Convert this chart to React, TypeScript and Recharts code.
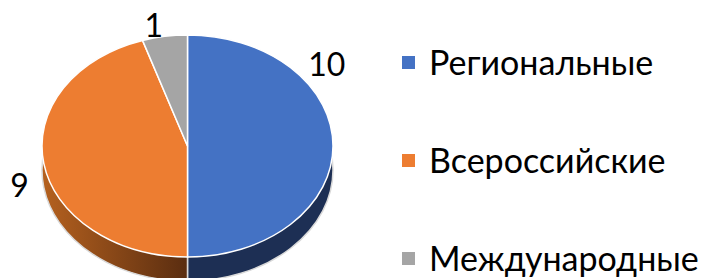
import React from 'react';
import { PieChart, Pie, Cell, Legend } from 'recharts';

const categories = ['Региональные', 'Всероссийские', 'Международные'];
const values = [10, 9, 1];
const topColors = ['#4472C4', '#ED7D31', '#A5A5A5'];
const sideColors = ['#1D2F54', 'url(#orangeSide)', '#6E6E6E'];

// Excel nudges the labels of a tilted pie round the rim
const LABEL_TURN = [42, 9, 2];

const TILT = 0.763;
const DEPTH = 24;
const CX = 187.5;
const CY = 146;
const RADIUS = 145.5;
const FONT = 'Lato, "Open Sans", sans-serif';

const data = categories.map((name, i) => ({ name, value: values[i] }));

const RAD = Math.PI / 180;

// flattened sector, so the circle reads as a tilted disc
function EllipseSector(props: any) {
  const { cx, cy, outerRadius, startAngle, endAngle, fill, stroke } = props;
  const rx = outerRadius;
  const ry = outerRadius * TILT;
  const x1 = cx + rx * Math.cos(startAngle * RAD);
  const y1 = cy - ry * Math.sin(startAngle * RAD);
  const x2 = cx + rx * Math.cos(endAngle * RAD);
  const y2 = cy - ry * Math.sin(endAngle * RAD);
  const sweep = startAngle > endAngle ? 1 : 0;
  const large = Math.abs(startAngle - endAngle) > 180 ? 1 : 0;
  const d = `M${cx},${cy} L${x1},${y1} A${rx},${ry} 0 ${large} ${sweep} ${x2},${y2} Z`;
  return <path d={d} fill={fill} stroke={stroke} strokeWidth={1.5} strokeLinejoin="round" />;
}

function renderLabel(props: any) {
  const { cx, cy, midAngle, outerRadius, index, value } = props;
  const a = (midAngle + LABEL_TURN[index]) * RAD;
  const wide = String(value).length * 11;
  const x = cx + (outerRadius + 20 + wide) * Math.cos(a);
  const y = cy - (outerRadius * TILT + 13) * Math.sin(a);
  return (
    <text x={x} y={y} textAnchor="middle" dominantBaseline="central" fill="#000" fontSize={32} fontFamily={FONT}>
      {value}
    </text>
  );
}

function LegendList() {
  return (
    <div>
      {categories.map((name, i) => (
        <div key={name} style={{ height: 98, display: 'flex', alignItems: 'center' }}>
          <span style={{ width: 13, height: 13, background: topColors[i], marginRight: 14, display: 'inline-block', flex: 'none' }} />
          <span style={{ fontFamily: FONT, fontSize: 34, lineHeight: '40px', color: '#000', whiteSpace: 'nowrap' }}>{name}</span>
        </div>
      ))}
    </div>
  );
}

export default function App() {
  return (
    <div style={{ position: 'absolute', left: 0, top: 0, width: 708, height: 278, background: '#fff', overflow: 'hidden' }}>
      <PieChart width={708} height={278} margin={{ top: 0, right: 0, bottom: 0, left: 0 }}>
        <defs>
          <linearGradient id="orangeSide" x1="0" y1="0" x2="1" y2="0">
            <stop offset="0%" stopColor="#B5611F" />
            <stop offset="100%" stopColor="#5A2D10" />
          </linearGradient>
        </defs>
        <Pie
          data={data}
          dataKey="value"
          nameKey="name"
          cx={CX}
          cy={CY + DEPTH}
          outerRadius={RADIUS}
          startAngle={90}
          endAngle={-270}
          stroke="#D9D9D9"
          legendType="none"
          shape={EllipseSector}
          inactiveShape={EllipseSector}
          isAnimationActive={false}
        >
          {data.map((_, i) => (
            <Cell key={i} fill={sideColors[i]} />
          ))}
        </Pie>
        <Pie
          data={data}
          dataKey="value"
          nameKey="name"
          cx={CX}
          cy={CY}
          outerRadius={RADIUS}
          startAngle={90}
          endAngle={-270}
          stroke="#FFFFFF"
          shape={EllipseSector}
          inactiveShape={EllipseSector}
          label={renderLabel}
          labelLine={false}
          isAnimationActive={false}
        >
          {data.map((_, i) => (
            <Cell key={i} fill={topColors[i]} />
          ))}
        </Pie>
        <Legend
          layout="vertical"
          verticalAlign="top"
          align="right"
          content={LegendList}
          wrapperStyle={{ left: 402, top: 13, width: 306 }}
        />
      </PieChart>
    </div>
  );
}
